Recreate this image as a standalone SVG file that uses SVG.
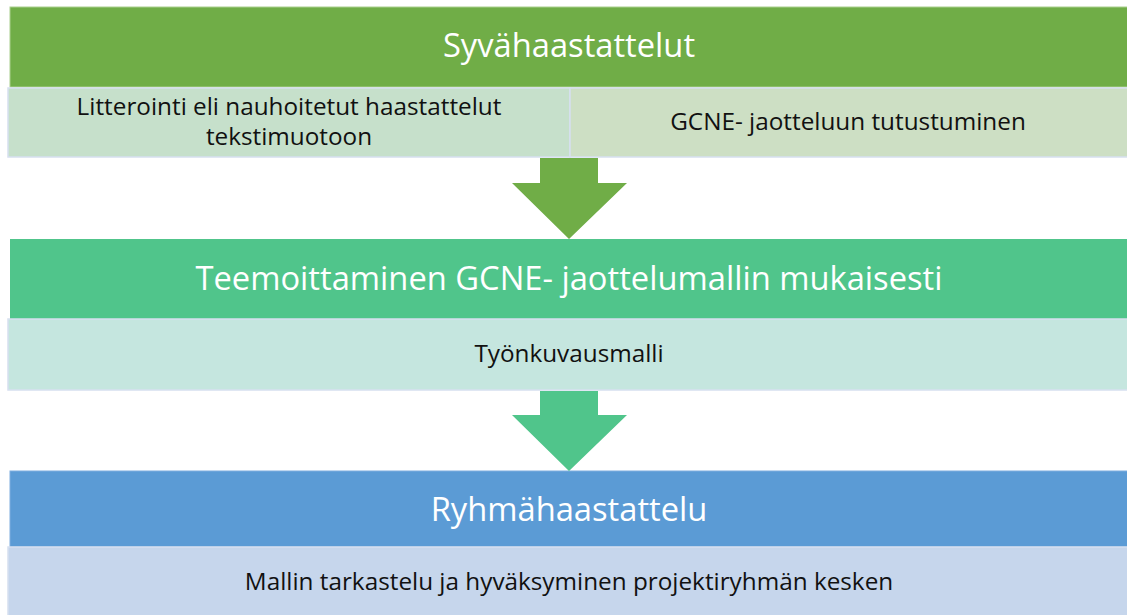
<svg xmlns="http://www.w3.org/2000/svg" width="1127" height="615" viewBox="0 0 1127 615">
<style>
.title{font-family:"Open Sans","Liberation Sans",sans-serif;font-size:32.7px;fill:#ffffff;text-anchor:middle}
.sub{font-family:"Open Sans","Liberation Sans",sans-serif;font-size:24.3px;fill:#111111;text-anchor:middle}
.cell{stroke:#d6e0f0;stroke-width:1.5}
</style>
<rect width="1127" height="615" fill="#ffffff"/>
<g id="node-syva">
<rect x="10" y="7" width="1120" height="80" fill="#70ad47" stroke="#a9d08e" stroke-width="1"/>
<text class="title" x="569" y="57">Syvähaastattelut</text>
</g>
<g id="node-litterointi">
<rect class="cell" x="8" y="88" width="562" height="69" fill="#c6e0cb"/>
<text class="sub" x="289" y="115">Litterointi eli nauhoitetut haastattelut</text>
<text class="sub" x="289" y="145">tekstimuotoon</text>
</g>
<g id="node-gcne">
<rect class="cell" x="570" y="88" width="560" height="69" fill="#cddfc4"/>
<text class="sub" x="848" y="130">GCNE- jaotteluun tutustuminen</text>
</g>
<g id="node-teemoittaminen">
<rect x="10" y="239" width="1120" height="80" fill="#50c58b"/>
<text class="title" x="569" y="290">Teemoittaminen GCNE- jaottelumallin mukaisesti</text>
</g>
<g id="node-tyonkuvaus">
<rect class="cell" x="8" y="319" width="1122" height="71" fill="#c5e6df"/>
<text class="sub" x="569" y="362">Työnkuvausmalli</text>
</g>
<g id="node-ryhma">
<rect x="10" y="471" width="1120" height="76" fill="#5b9bd5" stroke="#7eaee0" stroke-width="1"/>
<text class="title" x="569" y="521">Ryhmähaastattelu</text>
</g>
<g id="node-mallin">
<rect class="cell" x="8" y="547" width="1122" height="70" fill="#c6d6ec"/>
<text class="sub" x="569" y="590">Mallin tarkastelu ja hyväksyminen projektiryhmän kesken</text>
</g>
<g id="connectors">
<polygon points="540,158 598,158 598,183 627,183 569,239 512,183 540,183" fill="#70ad47"/>
<polygon points="540,391 598,391 598,415 627,415 569,471 512,415 540,415" fill="#50c58b"/>
</g>
</svg>
